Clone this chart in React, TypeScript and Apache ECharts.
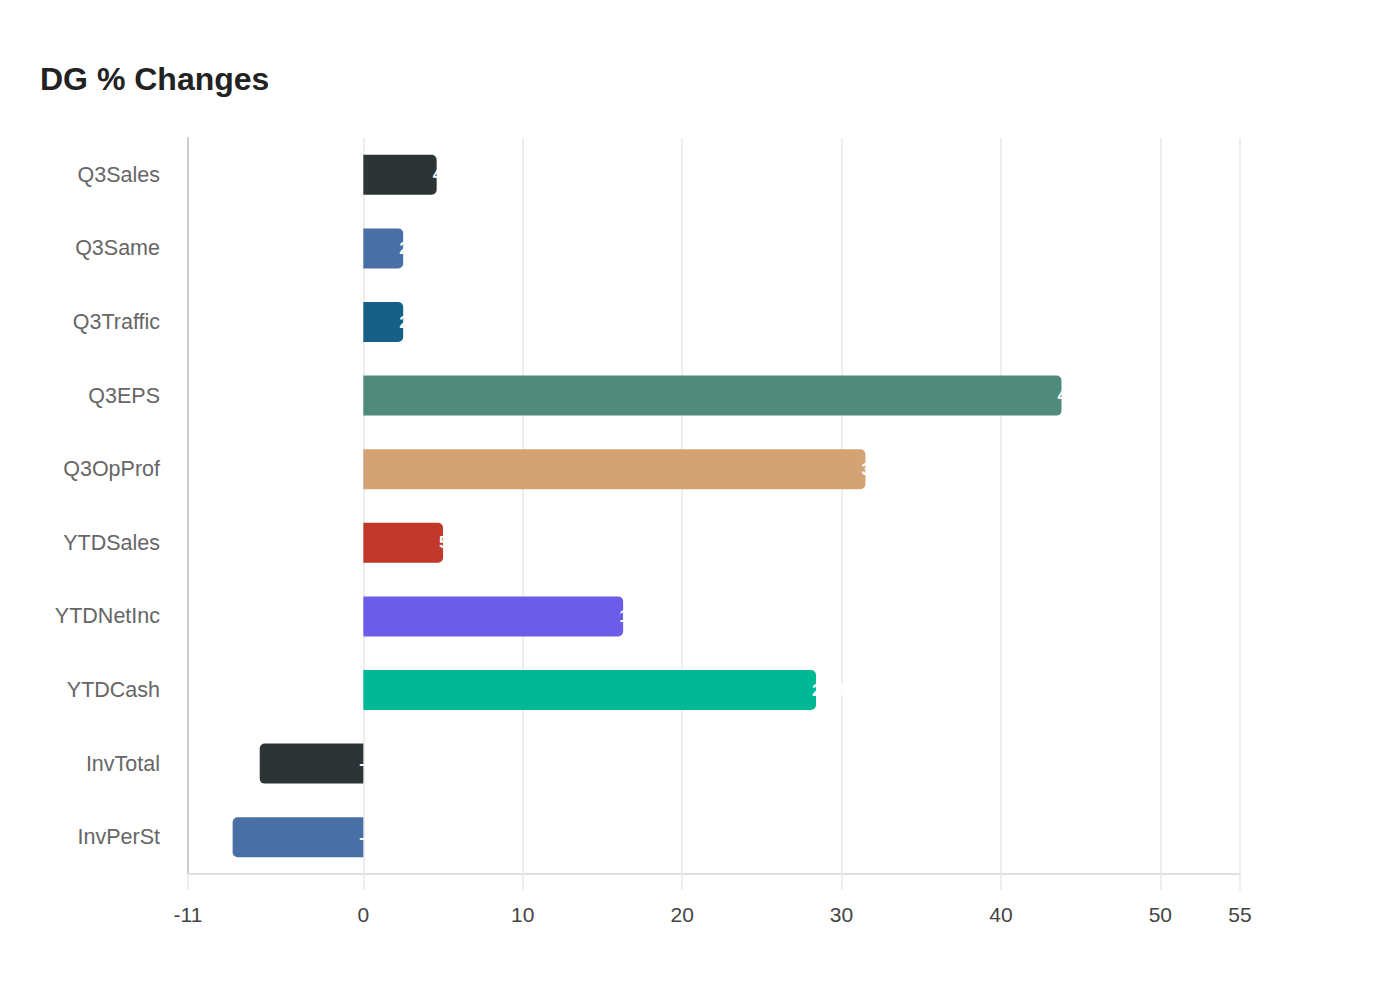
import { useEffect, useRef } from "react";
import * as echarts from "echarts";

const categories = ["Q3Sales", "Q3Same", "Q3Traffic", "Q3EPS", "Q3OpProf", "YTDSales", "YTDNetInc", "YTDCash", "InvTotal", "InvPerSt"];
const values = [4.6, 2.5, 2.5, 43.8, 31.5, 5.0, 16.3, 28.4, -6.5, -8.2];
const ticks = [-11, 0, 10, 20, 30, 40, 50, 55];
const palette = ["#2d3436", "#4a6fa5", "#166088", "#4f8a7a", "#d4a373", "#c0392b", "#6c5ce7", "#00b894"];

const FONT = "'Liberation Sans', Arial, sans-serif";

export default function App() {
  const ref = useRef<HTMLDivElement>(null);

  useEffect(() => {
    if (!ref.current) return;
    const chart = echarts.init(ref.current, null, { renderer: "svg" });
    chart.setOption({
      animation: false,
      backgroundColor: "#ffffff",
      textStyle: { fontFamily: FONT },
      title: {
        text: "DG % Changes", left: 35, top: 58,
        textStyle: { fontFamily: FONT, fontSize: 32, fontWeight: "bold", color: "#222222" },
      },
      grid: { left: 188, right: 160, top: 138, bottom: 126 },
      xAxis: {
        type: "value", min: -11, max: 55,
        axisLine: { show: true, lineStyle: { color: "#e0e0e0", width: 2 } },
        axisTick: { show: true, length: 16, customValues: ticks, lineStyle: { color: "#eeeeee", width: 2 } },
        axisLabel: { customValues: ticks, fontFamily: FONT, fontSize: 21, color: "#444444", margin: 30 },
        splitLine: { show: true, lineStyle: { color: "#eeeeee", width: 2 } },
      },
      yAxis: {
        type: "category", inverse: true, data: categories,
        axisLine: { show: true, onZero: false, lineStyle: { color: "#cccccc", width: 2 } },
        axisTick: { show: false },
        axisLabel: { fontFamily: FONT, fontSize: 21.5, color: "#666666", margin: 28 },
      },
      series: [{
        type: "bar", barWidth: 40,
        data: values.map((v, i) => ({
          value: v,
          itemStyle: {
            color: palette[i % palette.length],
            borderRadius: v >= 0 ? [0, 5, 5, 0] : [5, 0, 0, 5],
          },
        })),
        label: {
          show: true, position: "right", distance: -4,
          color: "#ffffff", fontFamily: FONT, fontSize: 17, fontWeight: "bold",
        },
      }],
    });
    return () => chart.dispose();
  }, []);

  return <div ref={ref} style={{ position: "fixed", left: 0, top: 0, width: 1400, height: 1000 }} />;
}
